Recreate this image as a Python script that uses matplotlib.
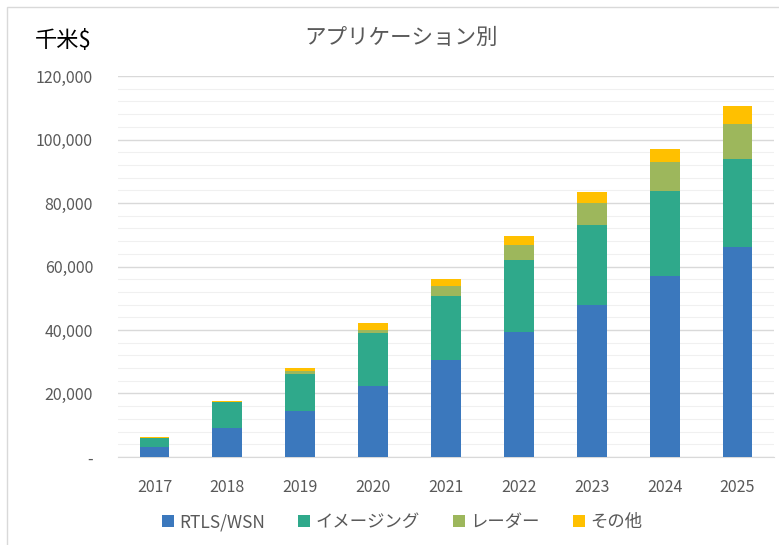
import numpy as np
import matplotlib.pyplot as plt
from matplotlib.patches import Rectangle
from matplotlib.ticker import MultipleLocator, FuncFormatter

plt.rcParams['font.family'] = ['Noto Sans CJK JP', 'DejaVu Sans']

years = ["2017", "2018", "2019", "2020", "2021", "2022", "2023", "2024", "2025"]
rtls = [3200, 9200, 14500, 22400, 30500, 39500, 47900, 57000, 66200]
imaging = [2900, 8000, 11600, 16500, 20200, 22500, 25100, 26900, 27600]
radar = [0, 200, 1100, 1100, 3200, 4800, 7100, 9100, 11000]
other = [100, 300, 900, 2100, 2100, 2900, 3500, 3900, 5700]

labels = ["RTLS/WSN", "イメージング", "レーダー", "その他"]
colors = ["#3b78bd", "#2fa98b", "#9db75c", "#ffc000"]

fig = plt.figure(figsize=(7.79, 5.45), dpi=100)
ax = fig.add_axes([0.1515, 0.1615, 0.842, 0.699])

x = np.arange(len(years))
bottom = np.zeros(len(years))
for vals, lab, col in zip([rtls, imaging, radar, other], labels, colors):
    ax.bar(x, vals, 0.41, bottom=bottom, color=col, label=lab, zorder=3)
    bottom += np.array(vals)

ax.set_xlim(-0.5, 8.5)
ax.set_ylim(0, 120000)
ax.yaxis.set_major_locator(MultipleLocator(20000))
ax.yaxis.set_minor_locator(MultipleLocator(4000))
ax.yaxis.set_major_formatter(FuncFormatter(lambda v, p: "-" if v == 0 else f"{int(v):,}"))
ax.grid(axis='y', which='major', color='#d9d9d9', linewidth=1, zorder=0)
ax.grid(axis='y', which='minor', color='#f0f0f0', linewidth=0.8, zorder=0)
ax.set_xticks(x)
ax.set_xticklabels(years)
ax.tick_params(axis='both', which='both', length=0, colors='#595959', labelsize=11.5)
ax.tick_params(axis='y', pad=18)
ax.tick_params(axis='x', pad=16)
for s in ['top', 'right', 'left']:
    ax.spines[s].set_visible(False)
ax.spines['bottom'].set_color('#d9d9d9')

fig.text(0.515, 0.93, "アプリケーション別", ha='center', va='center', fontsize=15.5, color='#595959')
fig.text(0.045, 0.925, "千米$", ha='left', va='center', fontsize=16, color='black')

fig.legend(loc='center', bbox_to_anchor=(0.516, 0.042), ncol=4, frameon=False, fontsize=12.5,
           handlelength=0.7, handleheight=0.7, handletextpad=0.3, columnspacing=1.9,
           labelcolor='#595959')

fig.patches.append(Rectangle((0.009, -0.01), 1.0, 0.997, transform=fig.transFigure,
                             fill=False, edgecolor='#d9d9d9', linewidth=1))

fig.savefig("out.png", dpi=100)
